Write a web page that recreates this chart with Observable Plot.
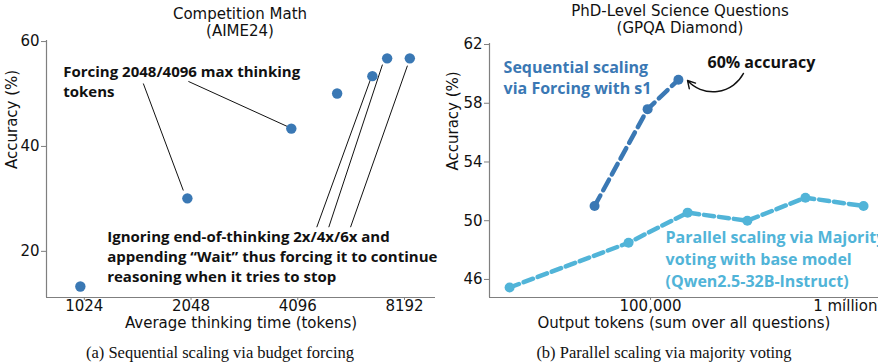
<!DOCTYPE html>
<html>
<head>
<meta charset="utf-8">
<script src="https://cdn.jsdelivr.net/npm/d3@7"></script>
<script src="https://cdn.jsdelivr.net/npm/@observablehq/plot@0.6"></script>
<style>
  html, body { margin: 0; padding: 0; background: #fff; }
  #wrap { position: relative; width: 878px; height: 363px; overflow: hidden; background: #fff; }
  .title { position: absolute; text-align: center; font-family: "DejaVu Sans", sans-serif; font-size: 15px; line-height: 17px; color: #111; white-space: nowrap; }
  .cap { position: absolute; text-align: center; font-family: "Liberation Serif", "Times New Roman", serif; font-size: 16.5px; line-height: 18px; color: #111; white-space: nowrap; }
  .panel { position: absolute; top: 30px; }
  .panel svg { overflow: visible; }
</style>
</head>
<body>
<div id="wrap">
  <div class="title" style="left:140px;width:200px;top:6px;">Competition Math<br>(AIME24)</div>
  <div class="title" style="left:560px;width:240px;top:3px;">PhD-Level Science Questions<br>(GPQA Diamond)</div>
  <div class="panel" id="left" style="left:0px;"></div>
  <div class="panel" id="right" style="left:440px;"></div>
  <div class="cap" style="left:60px;width:320px;top:344px;">(a) Sequential scaling via budget forcing</div>
  <div class="cap" style="left:504px;width:320px;top:344px;">(b) Parallel scaling via majority voting</div>
</div>
<script>
// ---------- Left panel data (AIME24, budget forcing) ----------
const mathTokens = [998, 2000, 3928, 5290, 6650, 7320, 8480];
const mathAcc    = [13.3, 30.1, 43.4, 50.1, 53.4, 56.8, 56.8];
const mathXTicks = [1024, 2048, 4096, 8192];
const mathYTicks = [20, 40, 60];
const mathXDomain = [801, 10020];
const mathYDomain = [11.2, 60.2];
const mathXLabel = "Average thinking time (tokens)";
const yLabel = "Accuracy (%)";

// annotation leader lines (data units)
const mathLinkX1 = [1502, 2013, 4634, 5010, 5770];
const mathLinkY1 = [52.0, 52.4, 24.6, 24.6, 24.6];
const mathLinkX2 = [1948, 3831, 6571, 7100, 8350];
const mathLinkY2 = [31.6, 43.8, 52.8, 55.6, 55.4];

const mathNoteText = ["Forcing 2048/4096 max thinking", "tokens",
  "Ignoring end-of-thinking 2x/4x/6x and", "appending \u201cWait\u201d thus forcing it to continue", "reasoning when it tries to stop"];
const mathNoteX = [893, 893, 1188, 1188, 1188];
const mathNoteY = [54.1, 50.3, 22.67, 18.86, 15.05];

// ---------- Right panel data (GPQA Diamond) ----------
const seqTokens = [51600, 96600, 139000];
const seqAcc    = [51.0, 57.6, 59.6];
const parTokens = [18900, 77100, 155000, 314000, 624000, 1240000];
const parAcc    = [45.45, 48.5, 50.55, 50.0, 51.57, 51.0];
const gpqaXTicks = [100000, 1000000];
const gpqaXTickLabels = ["100,000", "1 million"];
const gpqaYTicks = [46, 50, 54, 58, 62];
const gpqaXDomain = [14900, 1480000];
const gpqaYDomain = [44.77, 62.07];
const gpqaXLabel = "Output tokens (sum over all questions)";

const seqNoteText = ["Sequential scaling", "via Forcing with s1"];
const seqNoteX = [17600, 17600];
const seqNoteY = [60.43, 59.0];
const parNoteText = ["Parallel scaling via Majority", "voting with base model", "(Qwen2.5-32B-Instruct)"];
const parNoteX = [119400, 119400, 119400];
const parNoteY = [48.86, 47.36, 45.86];
const accNoteText = ["60% accuracy"];
const accNoteX = [196000];
const accNoteY = [60.77];
const arrowX1 = [300000], arrowY1 = [60.03], arrowX2 = [154800], arrowY2 = [59.55];

const DARK = "#3a78b4";
const LIGHT = "#51b4d8";
const SPINE = "#7f7f7f";
const BOLD = {fontFamily: "Open Sans", fontWeight: 700, fontSize: 15};
const BOLD_R = {fontFamily: "Open Sans", fontWeight: 700, fontSize: 16};

const zip2 = (a, b) => a.map((v, i) => ({x: v, y: b[i]}));
const mathPts = zip2(mathTokens, mathAcc);
const mathLinks = mathLinkX1.map((v, i) => ({x1: v, y1: mathLinkY1[i], x2: mathLinkX2[i], y2: mathLinkY2[i]}));
const mathNotes = mathNoteText.map((t, i) => ({t, x: mathNoteX[i], y: mathNoteY[i]}));
const seqPts = zip2(seqTokens, seqAcc);
const parPts = zip2(parTokens, parAcc);
const seqNotes = seqNoteText.map((t, i) => ({t, x: seqNoteX[i], y: seqNoteY[i]}));
const parNotes = parNoteText.map((t, i) => ({t, x: parNoteX[i], y: parNoteY[i]}));
const accNotes = accNoteText.map((t, i) => ({t, x: accNoteX[i], y: accNoteY[i]}));
const arrows = arrowX1.map((v, i) => ({x1: v, y1: arrowY1[i], x2: arrowX2[i], y2: arrowY2[i]}));

const baseStyle = {fontFamily: "DejaVu Sans", fontSize: "15px", color: "#111", background: "transparent", overflow: "visible"};

const left = Plot.plot({
  width: 440, height: 300,
  marginLeft: 46, marginRight: 5, marginTop: 10, marginBottom: 33,
  style: baseStyle,
  x: {type: "log", base: 2, domain: mathXDomain},
  y: {domain: mathYDomain},
  marks: [
    Plot.ruleX([mathXDomain[0]], {stroke: SPINE, strokeWidth: 1.2}),
    Plot.ruleY([mathYDomain[0]], {stroke: SPINE, strokeWidth: 1.2}),
    Plot.axisX({ticks: mathXTicks, tickFormat: d => String(d), tickSize: 3, tickPadding: 0, stroke: SPINE, label: null}),
    Plot.axisY({ticks: mathYTicks, tickSize: 5, tickPadding: 2, stroke: SPINE, label: null}),
    Plot.text([mathXLabel], {frameAnchor: "bottom", dy: 30, fontSize: 15, fill: "#111"}),
    Plot.text([yLabel], {frameAnchor: "left", rotate: -90, dx: -34, fontSize: 15, fill: "#111"}),
    Plot.link(mathLinks, {x1: "x1", y1: "y1", x2: "x2", y2: "y2", stroke: "#111", strokeWidth: 1}),
    Plot.dot(mathPts, {x: "x", y: "y", r: 5.2, fill: DARK}),
    Plot.text(mathNotes, {x: "x", y: "y", text: "t", textAnchor: "start", fill: "#111", ...BOLD})
  ]
});
document.getElementById("left").appendChild(left);

const right = Plot.plot({
  width: 438, height: 300,
  marginLeft: 49, marginRight: 0, marginTop: 13, marginBottom: 33,
  style: baseStyle,
  x: {type: "log", domain: gpqaXDomain},
  y: {domain: gpqaYDomain},
  marks: [
    Plot.ruleX([gpqaXDomain[0]], {stroke: SPINE, strokeWidth: 1.2}),
    Plot.ruleY([gpqaYDomain[0]], {stroke: SPINE, strokeWidth: 1.2}),
    Plot.axisX({ticks: gpqaXTicks, tickFormat: d => gpqaXTickLabels[gpqaXTicks.indexOf(d)], tickSize: 3, tickPadding: 0, stroke: SPINE, label: null}),
    Plot.axisY({ticks: gpqaYTicks, tickSize: 5, tickPadding: 2, stroke: SPINE, label: null}),
    Plot.text([gpqaXLabel], {frameAnchor: "bottom", dy: 30, fontSize: 15, fill: "#111"}),
    Plot.text([yLabel], {frameAnchor: "left", rotate: -90, dx: -36, fontSize: 15, fill: "#111"}),
    Plot.line(parPts, {x: "x", y: "y", stroke: LIGHT, strokeWidth: 4.5, strokeDasharray: "10,5"}),
    Plot.dot(parPts, {x: "x", y: "y", r: 5, fill: LIGHT}),
    Plot.line(seqPts, {x: "x", y: "y", stroke: DARK, strokeWidth: 4.5, strokeDasharray: "12,6"}),
    Plot.dot(seqPts, {x: "x", y: "y", r: 5, fill: DARK}),
    Plot.arrow(arrows, {x1: "x1", y1: "y1", x2: "x2", y2: "y2", bend: 55, stroke: "#111", strokeWidth: 1.4, headLength: 9}),
    Plot.text(seqNotes, {x: "x", y: "y", text: "t", textAnchor: "start", fill: DARK, ...BOLD_R}),
    Plot.text(parNotes, {x: "x", y: "y", text: "t", textAnchor: "start", fill: LIGHT, ...BOLD_R}),
    Plot.text(accNotes, {x: "x", y: "y", text: "t", textAnchor: "start", fill: "#111", ...BOLD_R})
  ]
});
document.getElementById("right").appendChild(right);
</script>
</body>
</html>
